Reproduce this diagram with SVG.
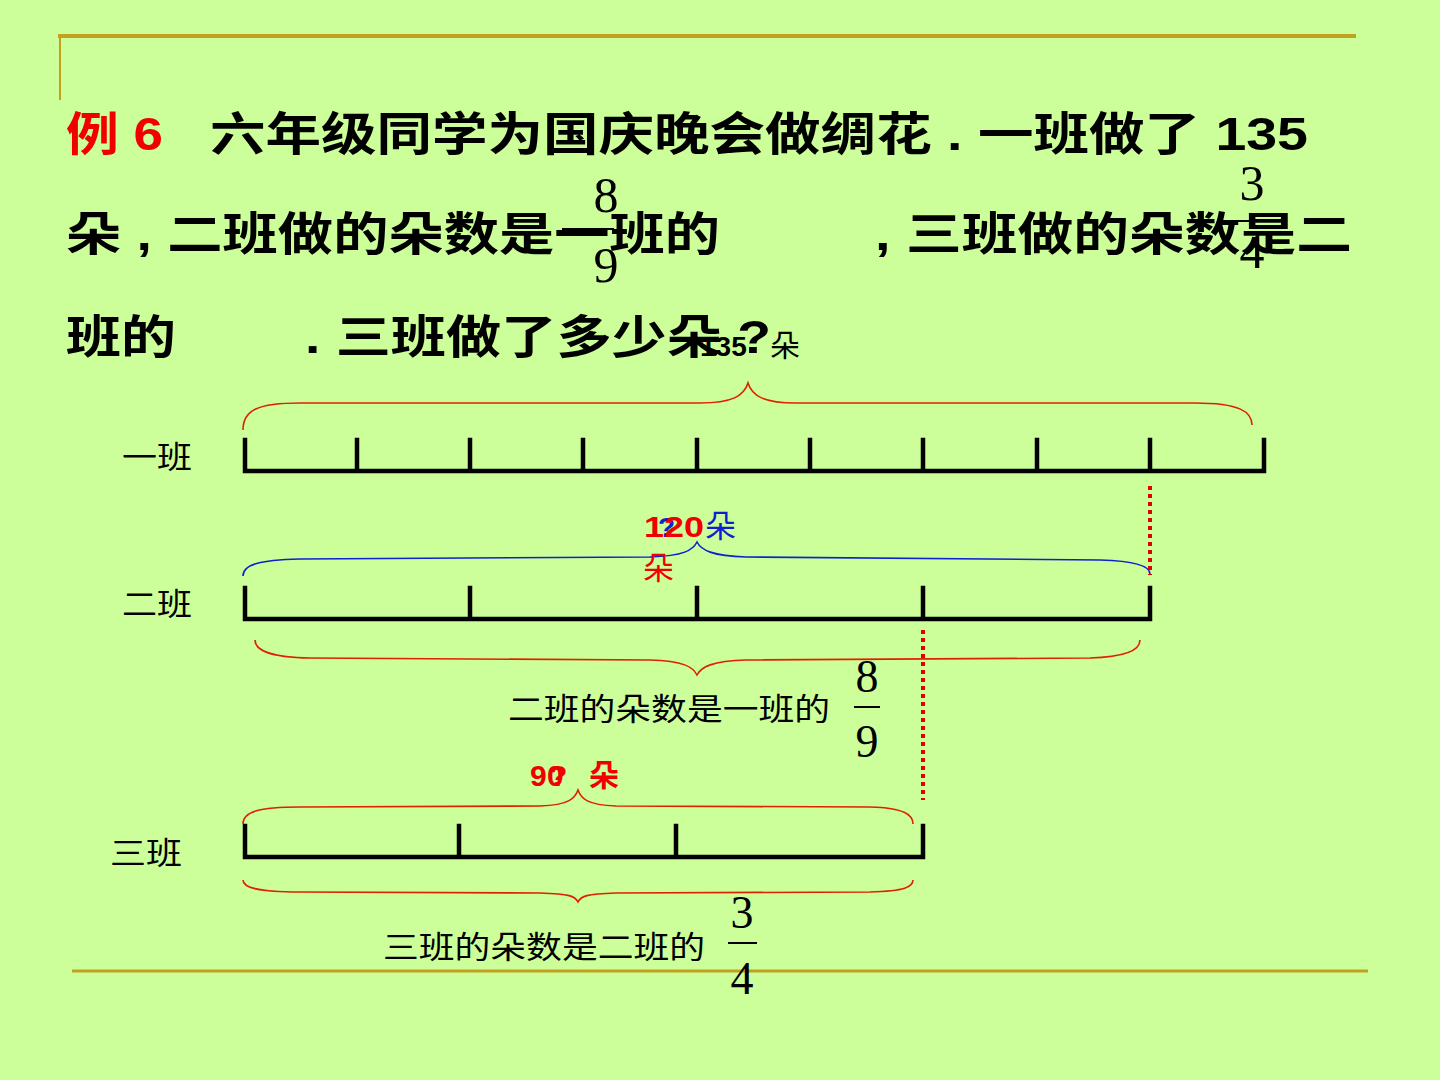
<svg xmlns="http://www.w3.org/2000/svg" width="1440" height="1080" viewBox="0 0 1440 1080">
<style>
.t{font-family:"Liberation Sans","Noto Sans CJK SC",sans-serif;font-weight:bold;font-size:46px;fill:#000}
.l{font-family:"Liberation Sans","Noto Sans CJK SC",sans-serif;font-size:31px;fill:#000}
.f{font-family:"Liberation Serif","Noto Sans CJK SC",serif;fill:#000}
.bar{stroke:#000;stroke-width:4.5;fill:none;stroke-linecap:square}
.br{fill:none;stroke:#E02000;stroke-width:1.6}
.bb{fill:none;stroke:#1020D0;stroke-width:1.6}
.dot{stroke:#E00000;stroke-width:4;stroke-dasharray:4 4}
.rb{font-family:"Liberation Sans","Noto Sans CJK SC",sans-serif;font-weight:bold;font-size:30px;fill:#F00000}
</style>
<rect width="1440" height="1080" fill="#CCFF99"/>
<g id="frame">
<line x1="58" y1="36" x2="1356" y2="36" stroke="#C4A020" stroke-width="4"/>
<line x1="60" y1="36" x2="60" y2="100" stroke="#C4A020" stroke-width="2"/>
<line x1="72" y1="971" x2="1368" y2="971" stroke="#C4A020" stroke-width="3"/>
</g>
<g id="title">
<text class="t" x="66" y="150" fill="#F00000" style="fill:#F00000" textLength="97" lengthAdjust="spacingAndGlyphs">例 6</text>
<text class="t" x="210" y="150" textLength="1098" lengthAdjust="spacingAndGlyphs">六年级同学为国庆晚会做绸花 . 一班做了 135</text>
<text class="t" x="66" y="250" textLength="654" lengthAdjust="spacingAndGlyphs">朵 , 二班做的朵数是一班的</text>
<text class="t" x="875" y="250" textLength="477" lengthAdjust="spacingAndGlyphs">, 三班做的朵数是二</text>
<text class="t" x="66" y="353" textLength="110" lengthAdjust="spacingAndGlyphs">班的</text>
<text class="t" x="305" y="353" textLength="466" lengthAdjust="spacingAndGlyphs">. 三班做了多少朵 ?</text>
<text class="f" x="606" y="212" font-size="50" text-anchor="middle">8</text>
<line x1="562" y1="229" x2="614" y2="229" stroke="#000" stroke-width="2"/>
<text class="f" x="606" y="282" font-size="50" text-anchor="middle">9</text>
<text class="f" x="1252" y="200" font-size="50" text-anchor="middle">3</text>
<line x1="1238" y1="221" x2="1268" y2="221" stroke="#000" stroke-width="2"/>
<text class="f" x="1252" y="268" font-size="50" text-anchor="middle">4</text>
</g>
<g id="class1">
<text class="l" x="122" y="468" textLength="70" lengthAdjust="spacingAndGlyphs">一班</text>
<path class="bar" d="M245,440 V471 H1264 V440 M357,440 V471 M470,440 V471 M583,440 V471 M697,440 V471 M810,440 V471 M923,440 V471 M1037,440 V471 M1150,440 V471"/>
<path class="br" d="M243,430 C243,410 258,403 300,403 L700,403 C732,403 744,396 748,383 C752,396 764,403 796,403 L1195,403 C1240,403 1252,412 1252,425"/>
<text x="700" y="356" font-family="Liberation Sans,sans-serif" font-weight="bold" font-size="28" fill="#000">135</text>
<text class="l" x="770" y="356" font-size="30" style="font-size:30px">朵</text>
</g>
<g id="class2">
<text class="l" x="122" y="615" textLength="70" lengthAdjust="spacingAndGlyphs">二班</text>
<path class="bar" d="M245,588 V619 H1150 V588 M470,588 V619 M697,588 V619 M923,588 V619"/>
<path class="bb" d="M243,576 C243,565 258,560 300,559 L650,557 C684,556 693,550 697,542 C701,550 712,556 746,557 L1100,560 C1135,561 1150,566 1150,574"/>
<path class="br" d="M255,640 C255,650 268,657 310,658 L650,660 C684,661 693,667 697,675 C701,667 712,661 746,660 L1090,658 C1125,657 1140,650 1140,640"/>
<text class="l" x="508" y="720" textLength="322" lengthAdjust="spacingAndGlyphs">二班的朵数是一班的</text>
<text class="f" x="867" y="692" font-size="46" text-anchor="middle">8</text>
<line x1="854" y1="707" x2="880" y2="707" stroke="#000" stroke-width="2"/>
<text class="f" x="867" y="757" font-size="46" text-anchor="middle">9</text>
<text x="658" y="537" font-family="Liberation Sans,sans-serif" font-weight="bold" font-size="28" fill="#1020D0">?</text>
<text class="rb" x="644" y="537" textLength="60" lengthAdjust="spacingAndGlyphs">120</text>
<text x="705" y="537" font-family="Liberation Sans,Noto Sans CJK SC,sans-serif" font-size="31" fill="#1020D0">朵</text>
<text x="643" y="579" font-family="Liberation Sans,Noto Sans CJK SC,sans-serif" font-size="31" fill="#F00000">朵</text>
</g>
<g id="class3">
<text class="l" x="110" y="864" textLength="72" lengthAdjust="spacingAndGlyphs">三班</text>
<path class="bar" d="M245,826 V857 H923 V826 M459,826 V857 M676,826 V857"/>
<path class="br" d="M243,824 C243,812 258,807 300,807 L540,806 C570,805 575,798 578,790 C581,798 586,805 616,806 L870,807 C905,808 913,815 913,824"/>
<path class="br" d="M243,880 C243,888 258,892 300,892 L540,893 C570,894 575,896 578,902 C581,896 586,894 616,893 L870,892 C905,891 913,887 913,880"/>
<text class="l" x="383" y="958" textLength="322" lengthAdjust="spacingAndGlyphs">三班的朵数是二班的</text>
<text class="f" x="742" y="928" font-size="46" text-anchor="middle">3</text>
<line x1="728" y1="943" x2="757" y2="943" stroke="#000" stroke-width="2"/>
<text class="f" x="742" y="994" font-size="46" text-anchor="middle">4</text>
<text class="rb" x="530" y="786">9</text>
<text class="rb" x="547" y="786">0</text>
<text class="rb" x="549" y="786">?</text>
<text class="rb" x="589" y="786">朵</text>
</g>
<g id="connectors">
<line class="dot" x1="1150" y1="486" x2="1150" y2="575"/>
<line class="dot" x1="923" y1="630" x2="923" y2="800"/>
</g>
</svg>
